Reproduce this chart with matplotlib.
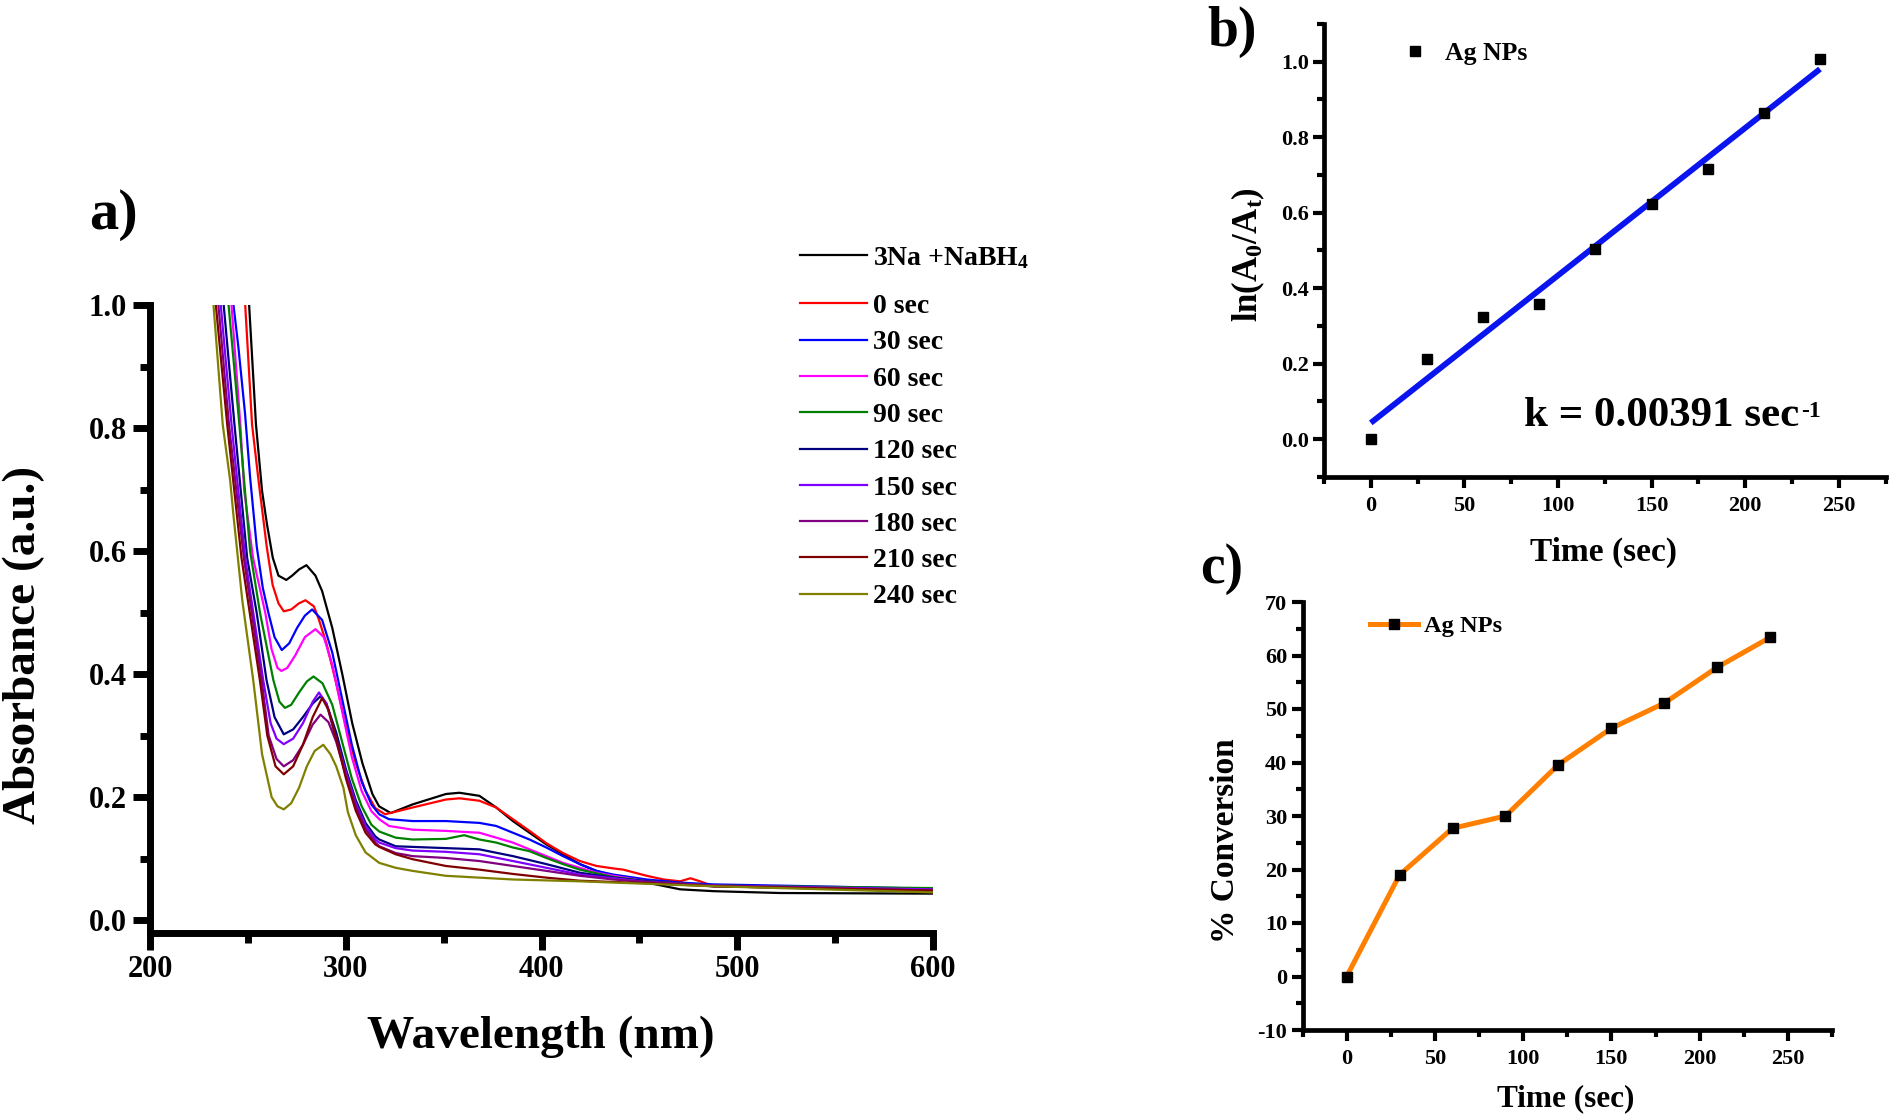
import matplotlib
matplotlib.use('Agg')
import matplotlib.pyplot as plt
from matplotlib.ticker import MultipleLocator, FormatStrFormatter
import numpy as np

# ---------------- data: panel a (UV-vis spectra) ----------------
wl_ref = [250.5, 254, 257.1, 259.6, 262.6, 265.5, 269.5, 272.5, 276, 279.8, 284.4, 287.8, 293, 298.1, 303.2, 308.4,
          313.5, 316.9, 322.9, 334, 351.1, 358, 368.2, 376.8, 385.3, 393.8, 402.4, 410.9, 419.5, 428, 436.6, 453.7,
          470.8, 487.9, 522, 600]
abs_ref = [1.0, 0.806, 0.698, 0.644, 0.589, 0.56, 0.553, 0.56, 0.57, 0.577, 0.56, 0.535, 0.475, 0.40, 0.32, 0.255,
           0.205, 0.185, 0.174, 0.188, 0.205, 0.207, 0.202, 0.183, 0.161, 0.142, 0.123, 0.107, 0.091, 0.08, 0.072, 0.061,
           0.05, 0.047, 0.044, 0.043]

wl_0 = [248.5, 252, 255.3, 259.5, 262.5, 265.5, 268.2, 272, 276, 279.3, 283.6, 286, 290, 295, 300, 305, 310, 315, 320,
        334, 351.1, 358, 368.2, 376.8, 385.3, 393.8, 402.4, 410.9, 419.5, 428, 436.6, 441.7, 453.7, 462.3, 470.8, 476,
        481, 487.9, 522, 600]
abs_0 = [1.0, 0.806, 0.715, 0.607, 0.545, 0.515, 0.502, 0.505, 0.515, 0.52, 0.51, 0.49, 0.45, 0.385, 0.315, 0.255,
         0.21, 0.182, 0.172, 0.183, 0.196, 0.198, 0.194, 0.183, 0.164, 0.145, 0.125, 0.109, 0.096, 0.088, 0.084, 0.082,
         0.072, 0.066, 0.063, 0.068, 0.063, 0.055, 0.053, 0.051]

wl_30 = [242.5, 245, 248.4, 251, 254.4, 257.5, 260.4, 263.5, 267.2, 271, 275, 279, 282.7, 287.8, 293, 298, 303, 308,
         313, 317, 322, 334, 351, 368.2, 376.8, 385.3, 393.8, 402.4, 410.9, 419.5, 428, 436.6, 453.7, 470.8, 487.9,
         522, 600]
abs_30 = [1.0, 0.932, 0.824, 0.72, 0.607, 0.54, 0.499, 0.46, 0.439, 0.45, 0.475, 0.495, 0.505, 0.488, 0.435, 0.36,
          0.285, 0.225, 0.188, 0.172, 0.164, 0.161, 0.161, 0.158, 0.153, 0.142, 0.131, 0.118, 0.104, 0.091, 0.08, 0.074,
          0.066, 0.061, 0.058, 0.056, 0.051]

wl_60 = [241.5, 246, 248, 252.5, 258.8, 262, 265, 267, 270, 274, 279, 284.4, 288.7, 293, 298, 303, 308, 313, 317, 322,
         334, 351, 368.2, 376.8, 385.3, 393.8, 402.4, 410.9, 419.5, 428, 436.6, 453.7, 487.9, 600]
abs_60 = [1.0, 0.806, 0.698, 0.589, 0.499, 0.44, 0.41, 0.405, 0.41, 0.43, 0.46, 0.473, 0.46, 0.415, 0.34, 0.265, 0.21,
          0.177, 0.164, 0.153, 0.147, 0.145, 0.142, 0.134, 0.126, 0.115, 0.104, 0.093, 0.085, 0.077, 0.072, 0.063,
          0.055, 0.05]

wl_90 = [240, 245.5, 251, 256.1, 262.9, 266, 268.8, 272, 276, 280, 283.4, 288, 293, 298, 303, 308, 313, 317, 325.4,
         334, 351, 360.4, 368.2, 376.8, 385.3, 393.8, 402.4, 410.9, 419.5, 436.6, 453.7, 487.9, 600]
abs_90 = [1.0, 0.806, 0.6, 0.499, 0.39, 0.355, 0.345, 0.35, 0.37, 0.388, 0.396, 0.385, 0.35, 0.29, 0.23, 0.185, 0.155,
          0.144, 0.134, 0.131, 0.132, 0.138, 0.131, 0.126, 0.118, 0.112, 0.101, 0.091, 0.082, 0.07, 0.063, 0.056, 0.052]

wl_120 = [237.5, 243, 249.5, 254.4, 259.4, 263.5, 268.2, 273, 278, 283, 287, 290, 295, 300, 305, 310, 315, 317, 325.4,
          334, 351, 368.2, 385.3, 402.4, 419.5, 436.6, 453.7, 487.9, 600]
abs_120 = [1.0, 0.806, 0.589, 0.499, 0.39, 0.33, 0.302, 0.31, 0.33, 0.352, 0.364, 0.352, 0.305, 0.245, 0.195, 0.158,
           0.136, 0.131, 0.12, 0.119, 0.117, 0.115, 0.104, 0.091, 0.077, 0.069, 0.063, 0.055, 0.048]

wl_150 = [236, 241.5, 248.5, 257.7, 261.5, 264.5, 268.2, 273, 278, 283, 286.2, 290, 295, 300, 305, 310, 315, 317,
          325.4, 334, 351, 368.2, 385.3, 402.4, 419.5, 436.6, 453.7, 487.9, 600]
abs_150 = [1.0, 0.806, 0.589, 0.39, 0.32, 0.295, 0.286, 0.295, 0.32, 0.355, 0.37, 0.352, 0.295, 0.24, 0.19, 0.153,
           0.131, 0.126, 0.117, 0.113, 0.111, 0.107, 0.096, 0.085, 0.074, 0.068, 0.062, 0.056, 0.05]

wl_180 = [234.8, 240.2, 247.8, 256.9, 260.5, 264.5, 268.2, 273, 278, 283, 287, 291, 295, 300, 305, 310, 315, 317,
          325.4, 334, 351, 368.2, 385.3, 402.4, 419.5, 436.6, 453.7, 487.9, 600]
abs_180 = [1.0, 0.806, 0.589, 0.39, 0.3, 0.262, 0.25, 0.26, 0.285, 0.318, 0.334, 0.322, 0.29, 0.235, 0.185, 0.148,
           0.126, 0.12, 0.109, 0.104, 0.101, 0.096, 0.088, 0.08, 0.072, 0.066, 0.062, 0.056, 0.048]

wl_210 = [233.5, 239.3, 246.6, 256, 259.8, 264, 268.2, 273, 278, 283, 287.8, 291, 295, 300, 305, 310, 315, 317, 325.4,
          334, 351, 368.2, 385.3, 402.4, 419.5, 453.7, 487.9, 600]
abs_210 = [1.0, 0.806, 0.589, 0.39, 0.3, 0.25, 0.237, 0.25, 0.285, 0.33, 0.361, 0.342, 0.295, 0.23, 0.178, 0.142,
           0.123, 0.119, 0.107, 0.099, 0.088, 0.082, 0.075, 0.069, 0.064, 0.06, 0.055, 0.048]

wl_240 = [232.3, 237, 240.8, 242.4, 247, 252.6, 257.1, 262, 265, 268.2, 272, 276, 280, 284, 288.4, 292, 295, 298.7,
          301, 305, 310, 317, 325.4, 334, 351, 368.2, 385.3, 419.5, 453.7, 487.9, 600]
abs_240 = [1.0, 0.806, 0.715, 0.661, 0.52, 0.39, 0.27, 0.2, 0.185, 0.18, 0.19, 0.215, 0.25, 0.275, 0.285, 0.27, 0.25,
           0.215, 0.175, 0.138, 0.11, 0.093, 0.085, 0.08, 0.072, 0.069, 0.066, 0.063, 0.059, 0.055, 0.045]

spec_labels = ['3Na +NaBH$_4$', '0 sec', '30 sec', '60 sec', '90 sec', '120 sec',
               '150 sec', '180 sec', '210 sec', '240 sec']
spec_colors = ['#000000', '#ff0000', '#0000ff', '#ff00ff', '#008000', '#000080',
               '#8000ff', '#800080', '#800000', '#808000']

# ---------------- data: panels b and c ----------------
time_s = [0, 30, 60, 90, 120, 150, 180, 210, 240]
ln_ratio = [0.0, 0.212, 0.325, 0.358, 0.504, 0.623, 0.715, 0.863, 1.008]
conversion = [0.0, 19.0, 27.7, 30.0, 39.6, 46.4, 51.1, 57.8, 63.4]

# ---------------- style ----------------
plt.rcParams.update({
    'font.family': ['Liberation Serif', 'DejaVu Serif'],
    'font.weight': 'bold',
    'mathtext.fontset': 'custom',
    'mathtext.rm': 'Liberation Serif:bold',
    'mathtext.it': 'Liberation Serif:bold',
    'mathtext.bf': 'Liberation Serif:bold',
    'mathtext.default': 'rm',
    'axes.unicode_minus': False,
})

W, H = 1890, 1120
fig = plt.figure(figsize=(W / 100, H / 100), dpi=100)


def rect(l, t, r, b):
    return [l / W, 1 - b / H, (r - l) / W, (b - t) / H]


def style_axes(ax, spine_w, tick_w, maj_len, min_len, fs, pad):
    for s in ['top', 'right']:
        ax.spines[s].set_visible(False)
    for s in ['left', 'bottom']:
        ax.spines[s].set_linewidth(spine_w)
    ax.tick_params(which='major', direction='out', width=tick_w, length=maj_len, labelsize=fs, pad=pad)
    ax.tick_params(which='minor', direction='out', width=tick_w, length=min_len)
    for lab in ax.get_xticklabels() + ax.get_yticklabels():
        lab.set_fontweight('bold')


# ---------------- panel a ----------------
axA = fig.add_axes(rect(150.3, 305, 933, 933))
series = [(wl_ref, abs_ref), (wl_0, abs_0), (wl_30, abs_30), (wl_60, abs_60), (wl_90, abs_90),
          (wl_120, abs_120), (wl_150, abs_150), (wl_180, abs_180), (wl_210, abs_210), (wl_240, abs_240)]
handles = []
for (wl, ab), lab, col in zip(series, spec_labels, spec_colors):
    h, = axA.plot(wl, ab, color=col, lw=1.6, label=lab, solid_joinstyle='round')
    handles.append(h)
axA.set_xlim(200, 600)
axA.set_ylim(-0.021, 1.0)
axA.xaxis.set_major_locator(MultipleLocator(100))
axA.xaxis.set_minor_locator(MultipleLocator(50))
axA.yaxis.set_major_locator(MultipleLocator(0.2))
axA.yaxis.set_minor_locator(MultipleLocator(0.1))
axA.yaxis.set_major_formatter(FormatStrFormatter('%.1f'))
style_axes(axA, 5, 5, 12.5, 7, 22, 4.5)
axA.tick_params(axis='x', pad=3.5)
fig.text(24 / W, 1 - 645 / H, 'Absorbance (a.u.)', rotation=90, ha='center', va='center',
         fontsize=34, fontweight='bold')
fig.text(541 / W, 1 - 1037 / H, 'Wavelength (nm)', ha='center', va='center', fontsize=34, fontweight='bold')
fig.text(89 / W, 1 - 229 / H, 'a)', ha='left', va='baseline', fontsize=42, fontweight='bold')

leg_kw = dict(frameon=False, fontsize=20, handlelength=2.4, handletextpad=0.24,
              borderpad=0, borderaxespad=0, bbox_transform=fig.transFigure, loc='center left')
leg1 = axA.legend(handles=handles[:1], bbox_to_anchor=(800 / W, 1 - 258 / H), **leg_kw)
axA.add_artist(leg1)
axA.legend(handles=handles[1:], bbox_to_anchor=(800 / W, 1 - 451.6 / H), labelspacing=0.39, **leg_kw)

# ---------------- panel b ----------------
axB = fig.add_axes(rect(1324, 24, 1885.5, 477))
slope, intercept = np.polyfit(time_s, ln_ratio, 1)
fit_t = np.array([time_s[0], time_s[-1]])
axB.plot(fit_t, slope * fit_t + intercept, color='#0a14ee', lw=4.2, solid_capstyle='butt', zorder=2)
axB.plot(time_s, ln_ratio, ls='none', marker='s', ms=7.5, color='black', label='Ag NPs', zorder=3)
axB.set_xlim(-25, 275)
axB.set_ylim(-0.1, 1.1)
axB.xaxis.set_major_locator(MultipleLocator(50))
axB.xaxis.set_minor_locator(MultipleLocator(25))
axB.yaxis.set_major_locator(MultipleLocator(0.2))
axB.yaxis.set_minor_locator(MultipleLocator(0.1))
axB.yaxis.set_major_formatter(FormatStrFormatter('%.1f'))
style_axes(axB, 3.4, 3, 8, 5, 16, 3)
axB.tick_params(axis='x', pad=6)
ktxt = axB.text(82, 0.035, 'k = 0.00391 sec', fontsize=31, fontweight='bold', ha='left', va='baseline')
axB.annotate('-1', xy=(1, 1), xycoords=ktxt, xytext=(1, -3), textcoords='offset points',
             ha='left', va='top', fontsize=17, fontweight='bold')
fig.text(1248 / W, 1 - 255 / H, 'ln(A$_0$/A$_t$)', rotation=90, ha='center', va='center',
         fontsize=25, fontweight='bold')
fig.text(1604 / W, 1 - 552 / H, 'Time (sec)', ha='center', va='center', fontsize=24, fontweight='bold')
fig.text(1207 / W, 1 - 46 / H, 'b)', ha='left', va='baseline', fontsize=40, fontweight='bold')
axB.legend(loc='upper left', bbox_to_anchor=(1402 / W, 1 - 42 / H), bbox_transform=fig.transFigure,
           frameon=False, fontsize=18.5, handlelength=1.0, handletextpad=0.68, numpoints=1,
           borderpad=0, borderaxespad=0)

# ---------------- panel c ----------------
axC = fig.add_axes(rect(1302.5, 602, 1832, 1030))
axC.plot(time_s, conversion, color='#ff8000', lw=3.6, marker='s', ms=7.5, mfc='black', mec='black',
         label='Ag NPs')
axC.set_xlim(-25, 275)
axC.set_ylim(-10, 70)
axC.xaxis.set_major_locator(MultipleLocator(50))
axC.xaxis.set_minor_locator(MultipleLocator(25))
axC.yaxis.set_major_locator(MultipleLocator(10))
axC.yaxis.set_minor_locator(MultipleLocator(5))
style_axes(axC, 3.4, 3, 8, 5, 16, 3)
axC.tick_params(axis='x', pad=6)
fig.text(1226 / W, 1 - 841 / H, '% Conversion', rotation=90, ha='center', va='center',
         fontsize=24, fontweight='bold')
fig.text(1566 / W, 1 - 1099 / H, 'Time (sec)', ha='center', va='center', fontsize=22.5, fontweight='bold')
fig.text(1200 / W, 1 - 583 / H, 'c)', ha='left', va='baseline', fontsize=40, fontweight='bold')
axC.legend(loc='upper left', bbox_to_anchor=(1370 / W, 1 - 615 / H), bbox_transform=fig.transFigure,
           frameon=False, fontsize=17.6, handlelength=1.97, handletextpad=0.23, numpoints=1,
           borderpad=0, borderaxespad=0)

fig.savefig('out.png', dpi=100)
